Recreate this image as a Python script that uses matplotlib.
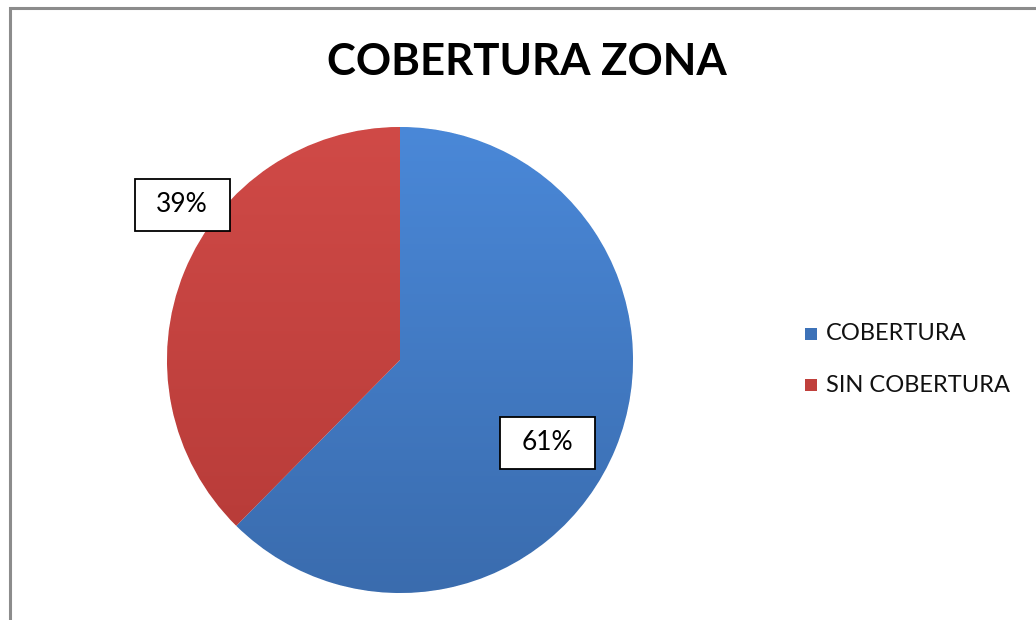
import matplotlib

matplotlib.use("Agg")
import matplotlib.pyplot as plt
import numpy as np
from matplotlib.colors import LinearSegmentedColormap
from matplotlib.patches import Rectangle

TITLE = "COBERTURA ZONA"
CATEGORIES = ["COBERTURA", "SIN COBERTURA"]
# slice sizes as drawn in the picture (the printed labels are rounded text)
SHARES = [62.4, 37.6]
LABELS = ["61%", "39%"]
LABEL_POS = [(547, 443), (182, 205)]  # pixel centres of the data labels

TOP_COLOURS = ["#4a88d8", "#d04a47"]
BOTTOM_COLOURS = ["#3a6cae", "#b53a37"]
LEGEND_COLOURS = ["#3d72b8", "#c0403c"]

plt.rcParams["font.family"] = ["Lato", "DejaVu Sans"]

W, H = 1036, 620
fig = plt.figure(figsize=(W / 100, H / 100), dpi=100)
ax = fig.add_axes([0, 0, 1, 1])

# outer frame of the chart area
ax.add_patch(Rectangle((10, -10), W + 20, H - 8 + 10, fill=False,
                       edgecolor="#8c8c8c", linewidth=2.2))

cx, cy, radius = 400, H - 360, 233
wedges, _ = ax.pie(SHARES, startangle=90, counterclock=False,
                   center=(cx, cy), radius=radius, frame=True,
                   wedgeprops=dict(edgecolor="#ffffff", linewidth=0.6))

gradient = np.linspace(0, 1, 256).reshape(-1, 1)
for wedge, top, bottom in zip(wedges, TOP_COLOURS, BOTTOM_COLOURS):
    cmap = LinearSegmentedColormap.from_list("g", [bottom, top])
    image = ax.imshow(gradient, cmap=cmap, origin="lower", aspect="auto",
                      extent=(cx - radius, cx + radius, cy - radius, cy + radius),
                      zorder=wedge.get_zorder() + 0.1)
    image.set_clip_path(wedge)
    wedge.set_facecolor(bottom)

ax.set_xlim(0, W)
ax.set_ylim(0, H)
ax.set_aspect("equal")
ax.axis("off")

box_w, box_h = 95, 52
for text, (px, py) in zip(LABELS, LABEL_POS):
    ax.add_patch(Rectangle((px - box_w / 2, H - py - box_h / 2), box_w, box_h,
                           facecolor="white", edgecolor="black",
                           linewidth=1.3, zorder=5))
    ax.text(px, H - py, text, ha="center", va="center", fontsize=19,
            color="black", zorder=6)

ax.text(527, H - 62, TITLE, ha="center", va="center", fontsize=31.5,
        fontweight="bold", color="black")

for i, (name, colour) in enumerate(zip(CATEGORIES, LEGEND_COLOURS)):
    y = H - (334 + i * 51)
    ax.add_patch(Rectangle((805, y - 6), 12, 12, facecolor=colour,
                           edgecolor="none"))
    ax.text(826, y, name, ha="left", va="center", fontsize=17, color="#111111")

fig.savefig("out.png", dpi=100)
